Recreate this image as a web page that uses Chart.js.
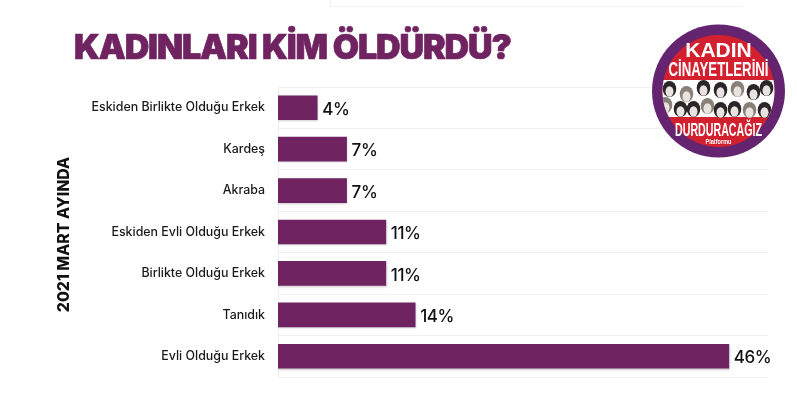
<!DOCTYPE html>
<html><head><meta charset="utf-8">
<style>html,body{margin:0;padding:0;background:#fff}#w{position:relative;width:797px;height:403px;overflow:hidden}canvas{display:block}</style>
<script src="https://cdn.jsdelivr.net/npm/chart.js@4"></script>
</head><body><div id="w"><canvas id="c" width="797" height="403"></canvas></div>
<script>
const categories = ["Eskiden Birlikte Olduğu Erkek","Kardeş","Akraba","Eskiden Evli Olduğu Erkek","Birlikte Olduğu Erkek","Tanıdık","Evli Olduğu Erkek"];
const values = [4,7,7,11,11,14,46];
const chartTitle = "KADINLARI KİM ÖLDÜRDÜ?";
const sideTitle = "2021 MART AYINDA";
const PURPLE = "#6f2361";

const background = {
  id:"background",
  beforeDraw(ch){
    const c=ch.ctx; c.save();
    c.strokeStyle="#f1f1f1"; c.lineWidth=1;
    c.beginPath(); c.moveTo(330.5,0); c.lineTo(330.5,6.5); c.lineTo(743,6.5); c.stroke();
    c.fillStyle=PURPLE; c.font="900 34px Inter"; c.textBaseline="alphabetic"; c.textAlign="left";
    c.letterSpacing="-1.1px";
    c.strokeStyle=PURPLE; c.lineWidth=.7; c.lineJoin="round";
    c.fillText(chartTitle,74,59); c.strokeText(chartTitle,74,59);
    c.letterSpacing="0px";
    c.translate(64,234.5); c.rotate(-Math.PI/2);
    c.fillStyle="#111"; c.textAlign="center"; c.textBaseline="middle"; c.font="800 15.8px Inter";
    c.fillText(sideTitle,0,0);
    c.restore();
  }
};
const barShadow = {
  id:"barShadow",
  beforeDatasetDraw(ch){const c=ch.ctx;c.save();c.shadowColor="rgba(0,0,0,.2)";c.shadowBlur=2;c.shadowOffsetY=1;c.shadowOffsetX=.5;},
  afterDatasetDraw(ch){ch.ctx.restore();}
};
const valueLabels = {
  id:"valueLabels",
  afterDatasetsDraw(ch){
    const c=ch.ctx,m=ch.getDatasetMeta(0); c.save();
    c.fillStyle="#111"; c.font="500 17px Inter"; c.letterSpacing="-.4px"; c.textAlign="left"; c.textBaseline="middle";
    m.data.forEach((b,i)=>c.fillText(values[i]+"%",b.x+5,b.y+2));
    c.restore();
  }
};
const logo = {
  id:"logo",
  afterDraw(ch){
    const c=ch.ctx,x=718.5,y=91; c.save();
    c.beginPath();c.arc(x,y,66.5,0,7);c.fillStyle="#64246f";c.fill();
    c.save();
    c.beginPath();c.arc(x,y,56,0,7);c.clip();
    c.fillStyle="#d3202f";c.fillRect(x-60,y-60,120,120);
    c.fillStyle="#fff";c.fillRect(x-60,y-11,120,37);
    const faces=[[-49,-2],[-32,3],[-15,-3],[2,-1],[19,-2],[35,1],[48,-3],[-53,14],[-38,18],[-25,18],[-11,15],[2,19],[16,18],[31,19],[46,19]];
    faces.forEach(([dx,dy],i)=>{
      c.fillStyle=i%3==1?"#8a8078":"#2a2526";c.beginPath();c.ellipse(x+dx,y+dy,6.8,8,0,0,7);c.fill();
      c.fillStyle="#e8e3e0";c.beginPath();c.ellipse(x+dx,y+dy+2.5,4,5.2,0,0,7);c.fill();
    });
    c.restore();
    c.fillStyle="#fff";c.textAlign="center";c.textBaseline="alphabetic";
    c.font="700 21px 'Liberation Sans'";c.fillText("KADIN",x,y-34,71);
    c.font="700 20px 'Liberation Sans'";c.fillText("CİNAYETLERİNİ",x,y-15,100);
    c.font="700 18px 'Liberation Sans'";c.fillText("DURDURACAĞIZ",x,y+45,87);
    c.font="700 7.5px 'Liberation Sans'";c.fillText("Platformu",x,y+53,26);
    c.restore();
  }
};
new Chart(document.getElementById("c"),{
  type:"bar",
  data:{labels:categories,datasets:[{data:values,backgroundColor:PURPLE,barThickness:24,borderWidth:0}]},
  plugins:[background,barShadow,valueLabels,logo],
  options:{
    indexAxis:"y",responsive:false,animation:false,
    layout:{padding:{left:0,right:29,top:87,bottom:26}},
    plugins:{legend:{display:false},tooltip:{enabled:false}},
    scales:{
      x:{display:false,min:0,max:50},
      y:{
        afterFit(s){s.width=278;},
        grid:{color:"#f0f0f0",drawTicks:false},
        border:{color:"#f0f0f0"},
        ticks:{color:"#1a1a1a",padding:13,font:{family:"Inter",size:12.4,weight:"500"}}
      }
    }
  }
});
</script></body></html>
